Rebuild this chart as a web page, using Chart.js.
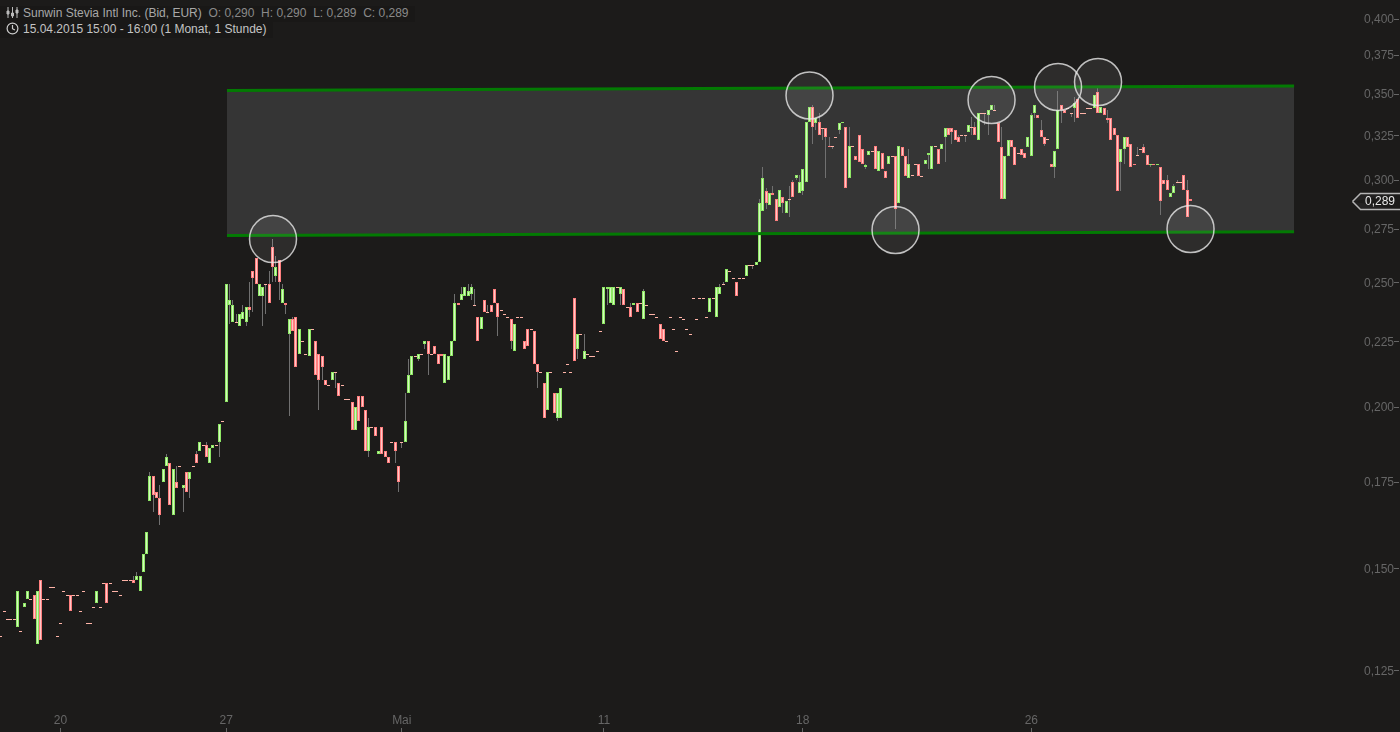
<!DOCTYPE html>
<html>
<head>
<meta charset="utf-8">
<title>Sunwin Stevia Intl Inc.</title>
<script src="https://cdn.jsdelivr.net/npm/chart.js@4"></script>
<style>
  html, body { margin: 0; background: #1c1b1a; overflow: hidden; }
  #wrap { position: relative; width: 1400px; height: 732px; }
  canvas { display: block; }
  .info { position: absolute; left: 0; height: 16px; line-height: 17px; padding: 0 6px 0 23px; background: #191817;
          font: 12px "Liberation Sans", Arial, sans-serif; white-space: pre; color: #a8a8a8; }
  .info svg { position: absolute; left: 6px; top: 0; }
  .info span { color: #8a8a8a; }
  #line1 { top: 6px; }
  #line2 { top: 22px; color: #c4c4c4; }
</style>
</head>
<body>
<div id="wrap">
  <canvas id="chart" width="1400" height="732"></canvas>
  <div class="info" id="line1"><svg width="13" height="13" viewBox="0 0 13 13" fill="none" stroke="#bbb"><path d="M2 1v11M6.5 1v11M11 1v11"/><path d="M1 5h2v3H1zM5.5 7h2v3h-2zM10 4h2v3h-2z" fill="#bbb"/></svg>Sunwin Stevia Intl Inc. (Bid, EUR)  <span>O: 0,290  H: 0,290  L: 0,289  C: 0,289</span></div>
  <div class="info" id="line2"><svg width="13" height="13" viewBox="0 0 13 13" fill="none" stroke="#ccc" stroke-width="1.2"><circle cx="6.5" cy="6.5" r="5.4"/><path d="M6.5 3v3.7l2.4 1.4"/></svg>15.04.2015 15:00 - 16:00 (1 Monat, 1 Stunde)</div>
</div>

<script>
// hourly prices, one slot per bar
const opens = [
  .133,.139,.137,.137,.137,.135,.134,.140,.142,.142,
  .143,.131,.147,.142,.142,.145,.145,.133,.136,.144,
  .143,.143,.143,.143,.139,.144,.136,.136,.140,.141,
  .140,.146,.146,.146,.144,.144,.143,.147,.147,.147,
  .147,.147,.144,.149,.154,.169,.177,.172,.170,.175,
  .180,.181,.165,.175,.180,.173,.178,.176,.180,.184,
  .185,.187,.187,.181,.186,.187,.188,.195,.202,.240,
  .233,.233,.231,.234,.233,.239,.255,.261,.244,.244,
  .249,.249,.266,.253,.260,.241,.241,.228,.234,.235,
  .220,.225,.220,.219,.230,.225,.220,.219,.210,.208,
  .210,.213,.209,.208,.203,.203,.202,.192,.204,.204,
  .199,.185,.193,.193,.184,.193,.185,.183,.188,.188,
  .180,.188,.188,.205,.212,.219,.218,.220,.224,.225,
  .220,.223,.220,.220,.209,.210,.219,.225,.241,.242,
  .244,.244,.245,.240,.235,.230,.242,.237,.240,.247,
  .241,.238,.236,.235,.234,.221,.235,.235,.225,.230,
  .230,.229,.216,.213,.209,.199,.213,.205,.196,.196,
  .213,.216,.213,.243,.222,.228,.218,.220,.219,.219,
  .221,.229,.232,.247,.241,.240,.248,.245,.247,.239,
  .239,.240,.241,.241,.234,.240,.236,.236,.235,.232,
  .230,.225,.235,.230,.221,.235,.234,.230,.228,.243,
  .234,.243,.243,.235,.237,.243,.235,.245,.249,.250,
  .255,.252,.250,.252,.252,.253,.258,.258,.258,.259,
  .284,.294,.287,.293,.290,.286,.291,.283,.290,.299,
  .301,.293,.294,.299,.333,.342,.332,.333,.329,.329,
  .319,.319,.324,.328,.332,.330,.301,.319,.313,.325,
  .317,.307,.314,.316,.319,.305,.315,.305,.309,.313,
  .313,.288,.318,.313,.301,.303,.309,.309,.302,.309,
  .314,.306,.319,.317,.317,.324,.329,.329,.328,.324,
  .325,.325,.327,.330,.330,.322,.338,.338,.337,.340,
  .340,.332,.318,.290,.313,.322,.318,.315,.317,.315,
  .318,.313,.338,.337,.328,.324,.323,.309,.307,.317,
  .343,.340,.341,.338,.341,.347,.338,.338,.341,.341,
  .341,.351,.338,.341,.335,.335,.329,.325,.310,.317,
  .324,.320,.309,.314,.317,.318,.314,.308,.309,.308,
  .307,.300,.300,.291,.293,.299,.299,.303,.295,.290
];
const closes = [
  .133,.139,.137,.137,.137,.144,.134,.141,.144,.142,
  .137,.144,.132,.142,.142,.145,.145,.133,.136,.144,
  .143,.139,.143,.143,.139,.144,.136,.136,.140,.144,
  .140,.146,.141,.146,.144,.144,.143,.147,.147,.147,
  .146,.148,.148,.154,.160,.177,.171,.170,.165,.179,
  .183,.168,.179,.173,.180,.174,.172,.178,.180,.181,
  .188,.187,.183,.186,.187,.187,.194,.195,.249,.242,
  .240,.233,.236,.237,.239,.238,.252,.249,.249,.248,
  .249,.241,.257,.257,.250,.247,.240,.234,.229,.215,
  .230,.225,.220,.230,.230,.212,.210,.215,.208,.208,
  .213,.213,.204,.208,.203,.203,.192,.200,.195,.200,
  .185,.193,.193,.190,.185,.184,.183,.181,.188,.185,
  .175,.188,.195,.212,.219,.219,.220,.220,.225,.220,
  .220,.220,.216,.219,.220,.219,.225,.241,.240,.245,
  .248,.246,.248,.240,.225,.235,.237,.237,.237,.241,
  .235,.238,.236,.235,.225,.232,.235,.235,.222,.223,
  .230,.216,.213,.213,.196,.213,.213,.198,.205,.207,
  .213,.216,.213,.217,.228,.228,.221,.220,.219,.219,
  .221,.229,.248,.248,.248,.248,.248,.248,.240,.239,
  .235,.241,.237,.241,.246,.240,.236,.236,.235,.226,
  .225,.225,.235,.230,.221,.235,.234,.230,.228,.243,
  .234,.243,.243,.235,.243,.243,.248,.248,.249,.256,
  .255,.252,.244,.252,.252,.258,.258,.258,.259,.288,
  .301,.288,.293,.292,.279,.295,.288,.289,.290,.291,
  .303,.299,.306,.333,.342,.330,.335,.325,.329,.324,
  .318,.319,.324,.332,.333,.296,.319,.319,.311,.310,
  .309,.308,.316,.316,.306,.316,.306,.301,.313,.313,
  .285,.319,.313,.302,.309,.303,.309,.302,.302,.311,
  .315,.319,.319,.309,.320,.329,.325,.327,.322,.321,
  .325,.325,.331,.330,.325,.338,.338,.338,.340,.343,
  .340,.321,.290,.313,.322,.318,.308,.315,.314,.312,
  .324,.337,.343,.335,.324,.320,.323,.307,.316,.340,
  .340,.338,.341,.338,.344,.335,.338,.338,.341,.341,
  .349,.338,.342,.337,.334,.322,.325,.294,.317,.324,
  .318,.307,.308,.314,.317,.315,.308,.309,.308,.309,
  .289,.298,.295,.293,.297,.299,.299,.295,.281,.289
];
const highs = [
  .133,.139,.137,.137,.137,.144,.134,.141,.144,.142,
  .143,.144,.147,.142,.142,.145,.145,.133,.136,.144,
  .143,.143,.143,.143,.139,.144,.136,.136,.140,.144,
  .140,.146,.146,.146,.144,.144,.143,.147,.147,.147,
  .148,.149,.148,.154,.160,.178,.177,.172,.174,.179,
  .184,.181,.179,.180,.180,.174,.178,.178,.180,.185,
  .188,.187,.188,.186,.187,.187,.194,.195,.249,.249,
  .242,.236,.236,.240,.239,.250,.255,.261,.249,.248,
  .249,.255,.270,.262,.260,.249,.241,.234,.235,.235,
  .230,.225,.220,.230,.230,.225,.220,.219,.210,.208,
  .213,.213,.209,.208,.203,.203,.202,.200,.204,.204,
  .199,.196,.193,.193,.185,.193,.185,.183,.188,.188,
  .180,.188,.205,.218,.219,.219,.220,.220,.225,.225,
  .220,.223,.220,.220,.220,.219,.225,.245,.241,.248,
  .248,.249,.249,.247,.235,.235,.242,.240,.240,.247,
  .241,.238,.236,.235,.234,.232,.235,.235,.225,.230,
  .230,.229,.216,.213,.209,.213,.213,.205,.205,.207,
  .213,.216,.213,.243,.228,.228,.228,.220,.219,.219,
  .221,.229,.248,.248,.248,.248,.248,.248,.247,.239,
  .241,.241,.241,.241,.247,.240,.236,.236,.235,.232,
  .230,.225,.235,.230,.221,.235,.234,.230,.228,.243,
  .234,.243,.243,.235,.243,.243,.248,.249,.250,.256,
  .255,.252,.250,.252,.252,.258,.258,.258,.259,.290,
  .307,.296,.293,.297,.290,.295,.291,.289,.297,.300,
  .303,.303,.306,.333,.342,.343,.335,.338,.329,.329,
  .324,.319,.324,.332,.333,.330,.330,.319,.313,.325,
  .317,.309,.316,.316,.319,.316,.315,.305,.313,.313,
  .313,.319,.318,.313,.317,.303,.309,.309,.302,.311,
  .315,.319,.319,.317,.320,.329,.329,.329,.328,.325,
  .325,.325,.331,.336,.333,.338,.338,.338,.340,.343,
  .343,.332,.330,.313,.322,.322,.318,.315,.317,.315,
  .324,.338,.343,.337,.334,.324,.323,.309,.316,.352,
  .343,.340,.341,.338,.348,.347,.338,.338,.341,.341,
  .349,.354,.342,.341,.340,.335,.329,.325,.317,.324,
  .324,.320,.309,.318,.317,.320,.314,.309,.309,.309,
  .307,.300,.303,.293,.298,.300,.299,.303,.300,.290
];
const lows = [
  .133,.139,.137,.137,.137,.135,.134,.140,.142,.142,
  .137,.131,.132,.142,.142,.145,.145,.133,.136,.144,
  .143,.139,.143,.143,.139,.144,.136,.136,.140,.141,
  .140,.146,.141,.146,.144,.144,.143,.147,.147,.147,
  .146,.147,.144,.149,.154,.169,.166,.170,.162,.175,
  .180,.168,.165,.173,.180,.166,.172,.170,.180,.181,
  .185,.187,.183,.181,.186,.187,.183,.195,.202,.232,
  .233,.233,.231,.234,.231,.235,.237,.249,.244,.231,
  .236,.241,.250,.250,.242,.241,.236,.197,.229,.215,
  .220,.225,.220,.219,.230,.212,.199,.210,.208,.208,
  .210,.207,.204,.208,.203,.203,.192,.192,.195,.200,
  .185,.183,.193,.190,.184,.184,.183,.181,.188,.181,
  .172,.186,.188,.205,.212,.219,.217,.220,.222,.212,
  .220,.220,.216,.219,.209,.210,.219,.225,.240,.242,
  .244,.244,.242,.240,.225,.230,.237,.237,.237,.241,
  .227,.238,.236,.235,.222,.221,.235,.235,.222,.223,
  .230,.216,.207,.213,.196,.199,.213,.198,.195,.196,
  .213,.216,.213,.217,.218,.228,.218,.220,.219,.219,
  .221,.229,.232,.240,.241,.240,.248,.240,.240,.239,
  .235,.240,.237,.241,.234,.240,.236,.236,.235,.226,
  .225,.225,.235,.230,.221,.235,.234,.230,.228,.243,
  .234,.243,.243,.235,.237,.243,.235,.245,.249,.250,
  .255,.252,.244,.252,.252,.253,.258,.256,.258,.259,
  .284,.285,.287,.292,.279,.286,.283,.283,.281,.291,
  .300,.293,.292,.299,.333,.320,.328,.325,.322,.301,
  .318,.317,.324,.326,.332,.296,.301,.319,.311,.310,
  .309,.306,.314,.316,.306,.305,.306,.301,.309,.313,
  .275,.288,.313,.302,.301,.303,.309,.302,.302,.309,
  .306,.306,.319,.309,.317,.310,.325,.320,.322,.321,
  .325,.321,.327,.325,.325,.322,.338,.331,.325,.340,
  .340,.321,.290,.290,.313,.318,.308,.315,.314,.312,
  .318,.313,.335,.335,.324,.319,.323,.307,.301,.317,
  .332,.338,.341,.336,.333,.335,.338,.338,.341,.341,
  .341,.338,.338,.337,.332,.322,.325,.294,.294,.309,
  .318,.307,.308,.314,.317,.315,.308,.307,.308,.308,
  .282,.298,.295,.291,.293,.299,.299,.295,.281,.289
];

// trend channel and the circled touch points, as (slot, price)
const channelSlots = [68.24, 390.3];
const channelTop = [0.35205, 0.3549];
const channelBottom = [0.27173, 0.27358];
const touchSlots = [82.13, 244.06, 270.02, 299.0, 319.07, 331.14, 359.06];
const touchPrices = [0.27, 0.34892, 0.27442, 0.34613, 0.35426, 0.35744, 0.27492];

const priceTicks = [0.125, 0.15, 0.175, 0.2, 0.225, 0.25, 0.275, 0.3, 0.325, 0.35, 0.375, 0.4];
const dateSlots = [18, 68, 121, 182, 242, 311];
const dateLabels = ['20', '27', 'Mai', '11', '18', '26'];

const FONT = '"Liberation Sans", Arial, sans-serif';
const GREY = '#666';
const comma = v => v.toFixed(3).replace('.', ',');
const toPoints = (xs, ys) => xs.map((x, i) => ({ x, y: ys[i] }));
const isUp = i => closes[i] > opens[i];
const noPadding = s => { s.paddingTop = s.paddingBottom = s.paddingLeft = s.paddingRight = 0; };

// puts bars on whole pixels so the thin bodies stay crisp, flat bars get 1px
const snapBars = {
  id: 'snapBars',
  beforeDatasetsDraw(chart) {
    chart.data.datasets.forEach((ds, n) => {
      if (ds.type !== 'bar') return;
      chart.getDatasetMeta(n).data.forEach(bar => {
        bar.x = Math.floor(bar.x) + 0.5;
        bar.y = Math.round(bar.y);
        bar.base = Math.round(bar.base);
        if (ds.label === 'candles' && bar.y === bar.base) bar.base = bar.y + 1;
      });
    });
  }
};

// tick marks: under the date labels and right of the price labels
const tickMarks = {
  id: 'tickMarks',
  afterDraw(chart) {
    const { ctx, scales } = chart;
    ctx.save();
    ctx.strokeStyle = GREY;
    ctx.lineWidth = 1;
    ctx.beginPath();
    scales.x.ticks.forEach(t => {
      const px = Math.floor(scales.x.getPixelForValue(t.value)) + 0.5;
      ctx.moveTo(px, 728);
      ctx.lineTo(px, 732);
    });
    scales.y.ticks.forEach(t => {
      const py = Math.round(scales.y.getPixelForValue(t.value)) + 0.5;
      ctx.moveTo(1394, py);
      ctx.lineTo(1399, py);
    });
    ctx.stroke();
    ctx.restore();
  }
};

// last price tag on the axis
const priceTag = {
  id: 'priceTag',
  afterDraw(chart) {
    const { ctx, scales } = chart;
    const last = closes[closes.length - 1];
    const py = Math.round(scales.y.getPixelForValue(last)) + 0.5;
    ctx.save();
    ctx.beginPath();
    ctx.moveTo(1352.5, py);
    ctx.lineTo(1360.5, py - 8);
    ctx.lineTo(1400, py - 8);
    ctx.moveTo(1400, py + 8);
    ctx.lineTo(1360.5, py + 8);
    ctx.lineTo(1352.5, py);
    ctx.fillStyle = '#232222';
    ctx.fill();
    ctx.strokeStyle = '#b5b5b5';
    ctx.stroke();
    ctx.fillStyle = '#e8e8e8';
    ctx.font = '12px ' + FONT;
    ctx.textAlign = 'right';
    ctx.textBaseline = 'middle';
    ctx.fillText(comma(last), 1395, py + 0.5);
    ctx.restore();
  }
};

new Chart(document.getElementById('chart'), {
  data: {
    datasets: [
      { type: 'line', label: 'band', data: toPoints(channelSlots, channelTop), borderWidth: 0, pointRadius: 0,
        fill: '+1', backgroundColor: '#353535', order: 6 },
      { type: 'line', label: 'bandBottom', data: toPoints(channelSlots, channelBottom), borderWidth: 0, pointRadius: 0,
        fill: false, order: 6 },
      { type: 'bar', label: 'wicks', data: lows.map((l, i) => ({ x: i, y: [l, highs[i]] })),
        barThickness: 1, grouped: false, backgroundColor: '#707070', borderWidth: 0, inflateAmount: 0, order: 5 },
      { type: 'bar', label: 'candles', data: opens.map((o, i) => ({ x: i, y: [o, closes[i]] })),
        barThickness: 3, grouped: false, inflateAmount: 0, borderSkipped: false, borderWidth: 1, order: 4,
        backgroundColor: c => isUp(c.dataIndex) ? '#d4f8c0' : '#ffc8c8',
        borderColor: c => isUp(c.dataIndex) ? '#8fe865' : (opens[c.dataIndex] === closes[c.dataIndex] ? '#ffb4a8' : '#ff7f7f') },
      { type: 'line', label: 'upper', data: toPoints(channelSlots, channelTop), borderColor: '#037a03', borderWidth: 3,
        pointRadius: 0, fill: false, order: 3 },
      { type: 'line', label: 'lower', data: toPoints(channelSlots, channelBottom), borderColor: '#037a03', borderWidth: 3,
        pointRadius: 0, fill: false, order: 3 },
      { type: 'line', label: 'touches', data: toPoints(touchSlots, touchPrices), showLine: false, pointRadius: 23.5,
        pointBorderWidth: 1.5, pointBorderColor: 'rgba(232,232,232,0.8)', pointBackgroundColor: 'rgba(255,255,255,0.08)',
        clip: false, order: 1 }
    ]
  },
  options: {
    responsive: false,
    animation: false,
    layout: { padding: 0, autoPadding: false },
    plugins: { legend: { display: false }, tooltip: { enabled: false } },
    scales: {
      x: {
        type: 'linear',
        offset: false,
        bounds: 'data',
        min: -0.27,
        max: 422.28,
        grid: { display: false, drawTicks: false, offset: false },
        border: { display: false },
        afterBuildTicks: s => { s.ticks = dateSlots.map(v => ({ value: v })); },
        afterFit: s => { s.height = 24; noPadding(s); },
        ticks: {
          autoSkip: false,
          maxRotation: 0,
          padding: 5,
          color: GREY,
          font: { family: FONT, size: 12 },
          callback: v => dateLabels[dateSlots.indexOf(v)]
        }
      },
      y: {
        type: 'logarithmic',
        position: 'right',
        bounds: 'data',
        min: 0.11688,
        max: 0.4138,
        grid: { display: false, drawTicks: false },
        border: { display: false },
        afterBuildTicks: s => { s.ticks = priceTicks.map(v => ({ value: v })); },
        afterFit: s => { s.width = 0; noPadding(s); },
        ticks: {
          mirror: true,
          padding: -6,
          color: GREY,
          // blank first line with a 2px line height nudges the label down 1px
          font: { family: FONT, size: 12, lineHeight: '2px' },
          callback: v => ['', comma(v)]
        }
      }
    }
  },
  plugins: [snapBars, tickMarks, priceTag]
});
</script>
</body>
</html>
